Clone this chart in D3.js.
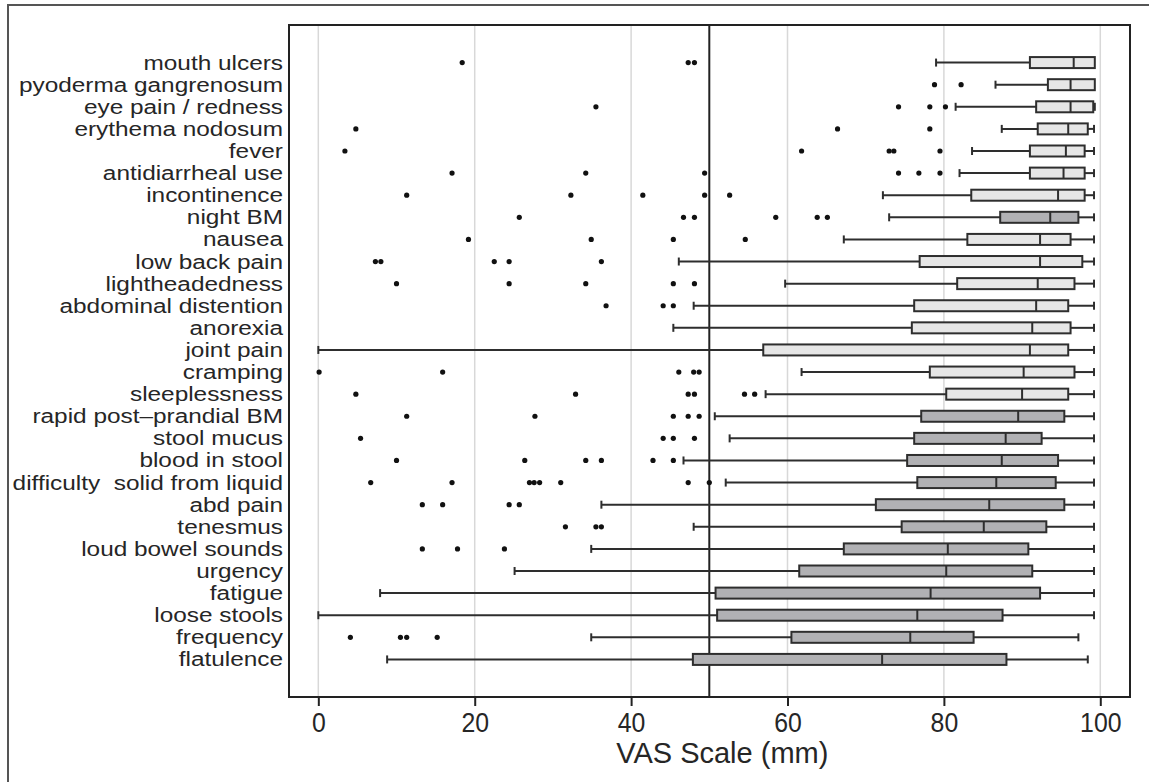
<!DOCTYPE html>
<html>
<head>
<meta charset="utf-8">
<script src="https://cdn.jsdelivr.net/npm/d3@7"></script>
<style>
  html, body { margin: 0; padding: 0; background: #fff; }
  svg { display: block; }
</style>
</head>
<body>
<svg id="chart" width="1149" height="782"></svg>
<script>
// ---- data ----
const categories = [
  "mouth ulcers", "pyoderma gangrenosum", "eye pain / redness", "erythema nodosum",
  "fever", "antidiarrheal use", "incontinence", "night BM", "nausea", "low back pain",
  "lightheadedness", "abdominal distention", "anorexia", "joint pain", "cramping",
  "sleeplessness", "rapid post\u2013prandial BM", "stool mucus", "blood in stool",
  "difficulty  solid from liquid", "abd pain", "tenesmus", "loud bowel sounds",
  "urgency", "fatigue", "loose stools", "frequency", "flatulence"
];
const whiskerLow = [79.0, 86.6, 81.5, 87.4, 83.6, 82.0, 72.2, 73.0, 67.2, 46.1,
  59.7, 48.0, 45.4, 0.0, 61.8, 57.2, 50.7, 52.6, 46.7, 52.1,
  36.2, 48.0, 34.9, 25.1, 7.9, 0.0, 34.9, 8.8];
const q1 = [91.0, 93.3, 91.8, 92.0, 91.0, 91.0, 83.5, 87.2, 83.0, 76.9,
  81.7, 76.2, 75.9, 56.9, 78.2, 80.3, 77.1, 76.2, 75.3, 76.6,
  71.3, 74.6, 67.2, 61.5, 50.8, 51.0, 60.5, 47.9];
const medians = [96.6, 96.2, 96.2, 95.9, 95.6, 95.3, 94.6, 93.6, 92.3, 92.3,
  92.0, 91.8, 91.3, 91.0, 90.2, 90.0, 89.5, 87.9, 87.4, 86.7,
  85.8, 85.1, 80.5, 80.3, 78.3, 76.6, 75.7, 72.1];
const q3 = [99.3, 99.3, 99.1, 98.4, 98.0, 98.0, 98.0, 97.2, 96.2, 97.7,
  96.7, 95.9, 96.2, 95.9, 96.7, 95.9, 95.4, 92.5, 94.6, 94.3,
  95.4, 93.1, 90.8, 91.3, 92.3, 87.5, 83.8, 88.0];
const whiskerHigh = [99.3, 99.3, 99.3, 99.2, 99.2, 99.2, 99.2, 99.2, 99.2, 99.2,
  99.2, 99.2, 99.2, 99.2, 99.2, 99.2, 99.2, 99.2, 99.2, 99.2,
  99.2, 99.2, 99.2, 99.2, 99.2, 99.2, 97.2, 98.4];
const outliers = [
  [18.4, 47.3, 48.1],
  [78.8, 82.2],
  [35.5, 74.2, 78.2, 80.2],
  [4.8, 66.4, 78.2],
  [3.4, 61.8, 73.0, 73.6, 79.5],
  [17.1, 34.2, 49.4, 74.2, 76.8, 79.5],
  [11.3, 32.3, 41.5, 49.4, 52.6],
  [25.7, 46.7, 48.1, 58.5, 63.8, 65.1],
  [19.2, 34.9, 45.4, 54.6],
  [7.3, 8.0, 22.5, 24.4, 36.2],
  [10.0, 24.4, 34.2, 45.4, 48.1],
  [36.8, 44.1, 45.4],
  [],
  [],
  [0.1, 15.9, 46.1, 48.0, 48.7],
  [4.8, 32.9, 47.3, 48.1, 54.5, 55.8],
  [11.3, 27.7, 45.4, 47.3, 48.7],
  [5.4, 44.1, 45.4, 48.1],
  [10.0, 26.4, 34.2, 36.2, 42.8, 45.4],
  [6.7, 17.1, 27.0, 27.6, 28.3, 31.0, 47.3, 50.0],
  [13.3, 15.9, 24.4, 25.7],
  [31.6, 35.5, 36.2],
  [13.3, 17.8, 23.8],
  [],
  [],
  [],
  [4.1, 10.5, 11.3, 15.2],
  []
];
// group: 0 = light boxes, 1 = dark boxes
const groups = [0,0,0,0,0,0,0,1,0,0,0,0,0,0,0,0,1,1,1,1,1,1,1,1,1,1,1,1];
const xTicks = [0, 20, 40, 60, 80, 100];
const xDomain = [-3.75, 103.8];
const refValue = 50;
const xTitle = "VAS Scale (mm)";

// ---- layout ----
const W = 1149, H = 782;
const frame = { left: 289, right: 1130, top: 25, bottom: 697 };
const fills = ["#e6e6e6", "#b1b1b4"];
const ink = "#2e2e2e";
const textInk = "#262626";

const svg = d3.select("#chart");

// outer border
svg.append("rect")
  .attr("x", 8).attr("y", 5).attr("width", W + 20).attr("height", H + 20)
  .attr("fill", "none").attr("stroke", "#555").attr("stroke-width", 2);

const x = d3.scaleLinear().domain(xDomain).range([frame.left, frame.right]);
const y = d3.scalePoint().domain(categories).range([frame.top, frame.bottom]).padding(1.7);

const data = categories.map((c, i) => ({
  cat: c, lo: whiskerLow[i], q1: q1[i], med: medians[i], q3: q3[i], hi: whiskerHigh[i],
  out: outliers[i], g: groups[i]
}));

// gridlines
svg.append("g").selectAll("line").data(xTicks).join("line")
  .attr("x1", d => x(d)).attr("x2", d => x(d))
  .attr("y1", frame.top).attr("y2", frame.bottom)
  .attr("stroke", "#d8d8d8").attr("stroke-width", 1.5);

// reference line
svg.append("line")
  .attr("x1", x(refValue)).attr("x2", x(refValue))
  .attr("y1", frame.top).attr("y2", frame.bottom)
  .attr("stroke", "#222").attr("stroke-width", 2);

const boxH = 11, capH = 8;
const rows = svg.append("g").selectAll("g").data(data).join("g");

// whiskers
rows.append("line")
  .attr("x1", d => x(d.lo)).attr("x2", d => x(d.q1))
  .attr("y1", d => y(d.cat)).attr("y2", d => y(d.cat))
  .attr("stroke", ink).attr("stroke-width", 2);
rows.append("line")
  .attr("x1", d => x(d.q3)).attr("x2", d => x(d.hi))
  .attr("y1", d => y(d.cat)).attr("y2", d => y(d.cat))
  .attr("stroke", ink).attr("stroke-width", 2);
// caps
rows.append("line")
  .attr("x1", d => x(d.lo)).attr("x2", d => x(d.lo))
  .attr("y1", d => y(d.cat) - capH / 2).attr("y2", d => y(d.cat) + capH / 2)
  .attr("stroke", ink).attr("stroke-width", 2);
rows.filter(d => d.hi > d.q3).append("line")
  .attr("x1", d => x(d.hi)).attr("x2", d => x(d.hi))
  .attr("y1", d => y(d.cat) - capH / 2).attr("y2", d => y(d.cat) + capH / 2)
  .attr("stroke", ink).attr("stroke-width", 2);
// boxes
rows.append("rect")
  .attr("x", d => x(d.q1)).attr("width", d => x(d.q3) - x(d.q1))
  .attr("y", d => y(d.cat) - boxH / 2).attr("height", boxH)
  .attr("fill", d => fills[d.g]).attr("stroke", ink).attr("stroke-width", 2);
// medians
rows.append("line")
  .attr("x1", d => x(d.med)).attr("x2", d => x(d.med))
  .attr("y1", d => y(d.cat) - boxH / 2).attr("y2", d => y(d.cat) + boxH / 2)
  .attr("stroke", ink).attr("stroke-width", 2);
// outliers
rows.selectAll("circle").data(d => d.out.map(v => ({ v, cat: d.cat }))).join("circle")
  .attr("cx", d => x(d.v)).attr("cy", d => y(d.cat)).attr("r", 2.6)
  .attr("fill", "#111");

// frame
svg.append("rect")
  .attr("x", frame.left).attr("y", frame.top)
  .attr("width", frame.right - frame.left).attr("height", frame.bottom - frame.top)
  .attr("fill", "none").attr("stroke", "#222").attr("stroke-width", 2);

// x axis
const xAxis = svg.append("g")
  .attr("transform", `translate(0,${frame.bottom})`)
  .call(d3.axisBottom(x).tickValues(xTicks).tickSize(9).tickPadding(5).tickFormat(d3.format("d")));
xAxis.select(".domain").remove();
xAxis.selectAll(".tick line").attr("stroke", "#222").attr("stroke-width", 2);
xAxis.selectAll(".tick text")
  .attr("font-family", "Liberation Sans, Arial, sans-serif")
  .attr("font-size", 27).attr("fill", textInk)
  .attr("transform", "scale(0.92,1.05)");

// category labels (slightly widened, as in the reference)
const labelScaleX = 1.25;
svg.append("g").selectAll("text").data(categories).join("text")
  .attr("transform", d => `translate(${frame.left - 6},${y(d)}) scale(${labelScaleX},1)`)
  .attr("dy", "0.36em")
  .attr("text-anchor", "end")
  .attr("font-family", "Liberation Sans, Arial, sans-serif")
  .attr("font-size", 19.5)
  .attr("fill", textInk)
  .style("white-space", "pre")
  .text(d => d);

// axis title
svg.append("text")
  .attr("x", (x(xTicks[0]) + x(xTicks[xTicks.length - 1])) / 2 + 13)
  .attr("y", 763)
  .attr("text-anchor", "middle")
  .attr("font-family", "Liberation Sans, Arial, sans-serif")
  .attr("font-size", 29).attr("fill", textInk)
  .text(xTitle);
</script>
</body>
</html>
